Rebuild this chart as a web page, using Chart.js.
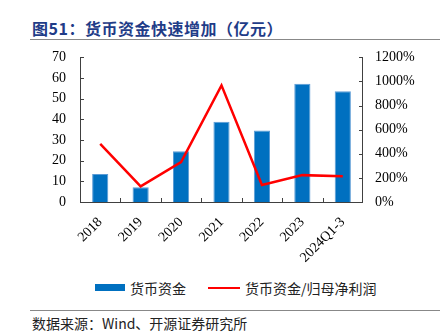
<!DOCTYPE html>
<html>
<head>
<meta charset="utf-8">
<script src="https://cdn.jsdelivr.net/npm/chart.js@4"></script>
<style>
  body { margin: 0; width: 440px; height: 335px; background: #fff; position: relative; overflow: hidden; }
  #title { position: absolute; left: 32px; top: 16px; font: bold 16px "Noto Sans CJK SC"; color: #1F3C88; letter-spacing: 0.5px; }
  .rule { position: absolute; left: 30px; width: 410px; height: 1px; background: #888; }
  #wrap { position: absolute; left: 0; top: 35px; width: 440px; height: 240px; }
  #legend { position: absolute; top: 278px; left: 0; width: 440px; height: 18px; font: 14px "Noto Sans CJK SC"; color: #222; }
  #legend span { position: absolute; top: 0; }
  #source { position: absolute; left: 32px; top: 313px; font: 14px "Noto Sans CJK SC"; color: #222; }
</style>
</head>
<body>
<div id="title">图51：货币资金快速增加（亿元）</div>
<div class="rule" style="top:39px"></div>
<div id="wrap"><canvas id="chart"></canvas></div>
<div id="legend">
  <div style="position:absolute;left:95px;top:6px;width:30px;height:7px;background:#0070C0"></div>
  <span style="left:130px">货币资金</span>
  <div style="position:absolute;left:208px;top:9px;width:32px;height:2px;background:#FF0000"></div>
  <span style="left:245px">货币资金/归母净利润</span>
</div>
<div class="rule" style="top:310px"></div>
<div id="source">数据来源：Wind、开源证券研究所</div>
<script>
const categories = ["2018", "2019", "2020", "2021", "2022", "2023", "2024Q1-3"];
const cashValues = [13.5, 7.1, 24.6, 38.8, 34.6, 57.3, 53.6];
const cashToProfit = [483, 130, 331, 968, 141, 223, 213];
const leftTicks = [0, 10, 20, 30, 40, 50, 60, 70];
const rightTicks = [0, 200, 400, 600, 800, 1000, 1200];

// axes with inward tick marks, drawn from the scales
const axisPlugin = {
  id: "axes",
  afterDraw(chart) {
    const { ctx, chartArea: a, scales } = chart;
    ctx.save();
    ctx.strokeStyle = "#404040";
    ctx.lineWidth = 1;
    ctx.beginPath();
    ctx.moveTo(a.left + 0.5, a.top);
    ctx.lineTo(a.left + 0.5, a.bottom + 0.5);
    ctx.lineTo(a.right - 0.5, a.bottom + 0.5);
    ctx.lineTo(a.right - 0.5, a.top);
    leftTicks.forEach(v => {
      const y = Math.round(scales.y.getPixelForValue(v)) + 0.5;
      ctx.moveTo(a.left, y);
      ctx.lineTo(a.left + 4, y);
    });
    rightTicks.forEach(v => {
      const y = Math.round(scales.y1.getPixelForValue(v)) + 0.5;
      ctx.moveTo(a.right, y);
      ctx.lineTo(a.right - 4, y);
    });
    const step = (a.right - a.left) / categories.length;
    for (let i = 1; i < categories.length; i++) {
      const x = Math.round(a.left + step * i) + 0.5;
      ctx.moveTo(x, a.bottom);
      ctx.lineTo(x, a.bottom - 4);
    }
    ctx.stroke();
    ctx.restore();
  }
};

const tickFont = { family: "Liberation Serif", size: 14 };

new Chart(document.getElementById("chart"), {
  data: {
    labels: categories,
    datasets: [
      {
        type: "line",
        label: "货币资金/归母净利润",
        data: cashToProfit,
        yAxisID: "y1",
        borderColor: "#FF0000",
        borderWidth: 2.5,
        pointRadius: 0,
        tension: 0,
        order: 0,
      },
      {
        type: "bar",
        label: "货币资金",
        data: cashValues,
        yAxisID: "y",
        backgroundColor: "#0070C0",
        borderColor: "#5B9BD5",
        borderWidth: 1,
        categoryPercentage: 0.4,
        barPercentage: 1,
        order: 1,
      },
    ],
  },
  options: {
    responsive: true,
    maintainAspectRatio: false,
    animation: false,
    layout: { padding: { top: 2, left: 0, right: 0, bottom: 0 } },
    plugins: { legend: { display: false }, tooltip: { enabled: false } },
    scales: {
      x: {
        grid: { display: false, drawTicks: false },
        border: { display: false },
        ticks: { color: "#000", font: { family: "Liberation Serif", size: 14 }, maxRotation: 45, minRotation: 45, padding: 12, autoSkip: false },
        afterFit: s => { s.height = 73; },
      },
      y: {
        position: "left",
        min: 0, max: 70,
        grid: { display: false, drawTicks: false },
        border: { display: false },
        ticks: { stepSize: 10, color: "#000", font: tickFont, padding: 14, autoSkip: false },
        afterFit: s => { s.width = 80; },
      },
      y1: {
        position: "right",
        min: 0, max: 1200,
        grid: { display: false, drawTicks: false },
        border: { display: false },
        ticks: { stepSize: 200, color: "#000", font: tickFont, padding: 12, autoSkip: false, callback: v => v + "%" },
        afterFit: s => { s.width = 77; },
      },
    },
  },
  plugins: [axisPlugin],
});
</script>
</body>
</html>
